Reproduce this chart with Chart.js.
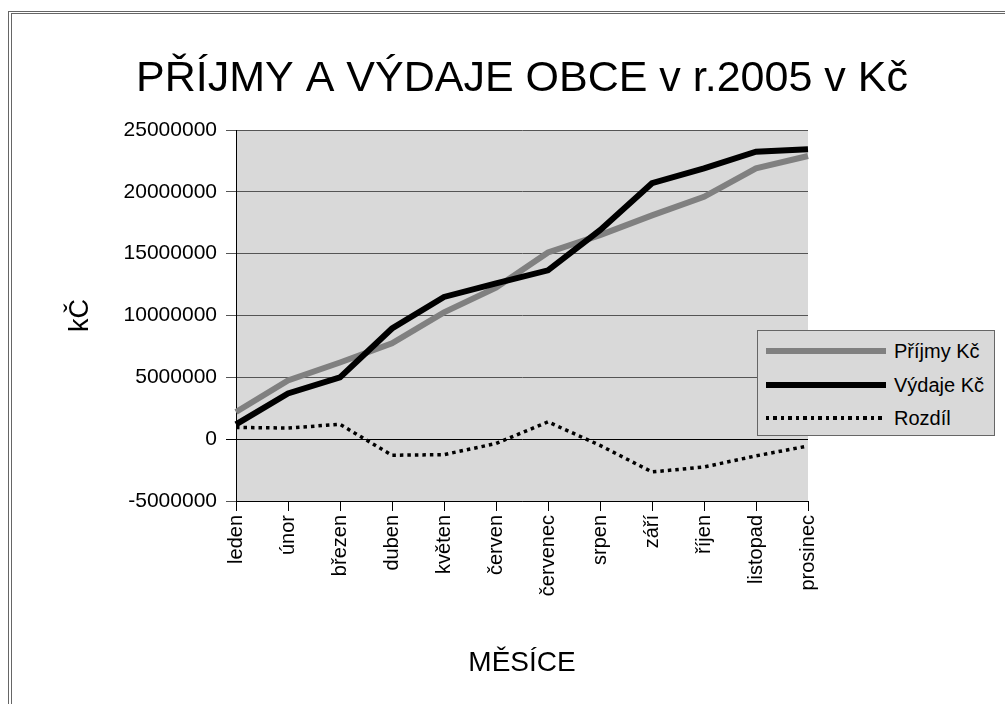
<!DOCTYPE html>
<html lang="cs">
<head>
<meta charset="utf-8">
<title>Příjmy a výdaje obce 2005</title>
<script src="https://cdn.jsdelivr.net/npm/chart.js@4/dist/chart.umd.min.js"></script>
<style>
  html, body { margin: 0; padding: 0; background: #fff; }
  body { width: 1005px; height: 704px; position: relative; overflow: hidden; font-family: "Liberation Sans", Arial, sans-serif; }
  #ramecek {
    position: absolute; left: 8px; top: 11px; width: 1100px; height: 800px;
    border-left: 4px double #666; border-top: 3px double #666;
  }
  #graf { position: absolute; left: 0; top: 0; }
  #legenda {
    position: absolute; left: 757px; top: 330px; width: 238px; height: 106px;
    box-sizing: border-box; background: #d9d9d9; border: 1px solid #666;
  }
  .radek { position: absolute; left: 8px; height: 24px; font-size: 20px; line-height: 24px; color: #000; }
  .vzorek { position: absolute; left: 0; width: 120px; }
  .popis { position: absolute; left: 128px; white-space: nowrap; }
</style>
</head>
<body>
<div id="ramecek"></div>
<canvas id="graf" width="1005" height="704"></canvas>
<div id="legenda"></div>
<script>
// data čtená z grafu
const mesice = ['leden', 'únor', 'březen', 'duben', 'květen', 'červen', 'červenec', 'srpen', 'září', 'říjen', 'listopad', 'prosinec'];
const prijmy = [2200000, 4750000, 6200000, 7750000, 10250000, 12250000, 15100000, 16500000, 18100000, 19600000, 21900000, 22900000];
const vydaje = [1200000, 3700000, 5000000, 8950000, 11500000, 12600000, 13650000, 16900000, 20700000, 21900000, 23250000, 23450000];
const rozdil = [950000, 900000, 1200000, -1300000, -1250000, -350000, 1400000, -500000, -2650000, -2250000, -1350000, -550000];
const osaYMin = -5000000;
const osaYMax = 25000000;
const osaYKrok = 5000000;

const nazvySerii = ['Příjmy Kč', 'Výdaje Kč', 'Rozdíl'];

// šedé pozadí plochy grafu
const pozadiPlochy = {
    id: 'pozadiPlochy',
    beforeDraw(chart) {
        const a = chart.chartArea;
        const ctx = chart.ctx;
        ctx.save();
        ctx.fillStyle = '#d9d9d9';
        ctx.fillRect(a.left, a.top, a.right - a.left, a.bottom - a.top);
        ctx.restore();
    }
};

const pismo = '"Liberation Sans", Arial, sans-serif';

const ctx = document.getElementById('graf').getContext('2d');
const graf = new Chart(ctx, {
    type: 'line',
    data: {
        labels: mesice,
        datasets: [
            {
                label: nazvySerii[0],
                data: prijmy,
                borderColor: '#808080',
                borderWidth: 6,
                order: 2
            },
            {
                label: nazvySerii[1],
                data: vydaje,
                borderColor: '#000000',
                borderWidth: 6,
                order: 1
            },
            {
                label: nazvySerii[2],
                data: rozdil,
                borderColor: '#000000',
                borderWidth: 3.5,
                borderDash: [3.5, 4],
                borderCapStyle: 'butt',
                order: 0
            }
        ]
    },
    options: {
        responsive: false,
        animation: false,
        devicePixelRatio: 1,
        // vlevo 39 px, aby byl nadpis vycentrovaný nad plochou grafu
        layout: { padding: { left: 39, right: 0, top: 0, bottom: 0 } },
        elements: {
            line: { tension: 0, fill: false, borderJoinStyle: 'miter' },
            point: { radius: 0, hoverRadius: 0 }
        },
        plugins: {
            legend: { display: false },
            tooltip: { enabled: false },
            title: {
                display: true,
                text: 'PŘÍJMY A VÝDAJE OBCE v r.2005 v Kč',
                color: '#000',
                font: { family: pismo, size: 43, weight: 'normal' },
                padding: { top: 53, bottom: 25.4 }
            }
        },
        scales: {
            x: {
                offset: false,
                grid: { drawOnChartArea: false, drawTicks: true, tickLength: 10, color: '#000' },
                border: { color: '#000', width: 1 },
                ticks: {
                    color: '#000',
                    font: { family: pismo, size: 20 },
                    minRotation: 90,
                    maxRotation: 90,
                    autoSkip: false,
                    padding: 4
                },
                title: {
                    display: true,
                    text: 'MĚSÍCE',
                    color: '#000',
                    font: { family: pismo, size: 28 },
                    padding: { top: 0, bottom: 24 }
                },
                afterFit(s) { s.height = 203; }
            },
            y: {
                min: osaYMin,
                max: osaYMax,
                grid: {
                    tickLength: 10,
                    color: (c) => (c.tick && c.tick.value === 0 ? '#000' : '#555')
                },
                border: { color: '#000', width: 1 },
                ticks: {
                    stepSize: osaYKrok,
                    color: '#000',
                    font: { family: pismo, size: 21 },
                    padding: 9,
                    callback: (v) => String(v)
                },
                title: {
                    display: true,
                    text: 'kČ',
                    color: '#000',
                    font: { family: pismo, size: 27 },
                    padding: { top: 25, bottom: 0 }
                },
                afterFit(s) { s.width = 197; }
            },
            // prázdné místo vpravo pro legendu
            volno: {
                position: 'right',
                display: true,
                grid: { display: false, drawTicks: false },
                border: { display: false },
                ticks: { display: false },
                afterFit(s) { s.width = 197; }
            }
        }
    },
    plugins: [pozadiPlochy]
});

// legenda vpravo (HTML), styly čárek podle datových řad
const legenda = document.getElementById('legenda');
graf.data.datasets.forEach(function(ds, i) {
    const radek = document.createElement('div');
    radek.className = 'radek';
    radek.style.top = (8 + i * 33.5) + 'px';
    const vzorek = document.createElement('div');
    vzorek.className = 'vzorek';
    const tl = ds.borderWidth;
    vzorek.style.top = (12 - tl / 2) + 'px';
    vzorek.style.height = tl + 'px';
    if (ds.borderDash) {
        const a = ds.borderDash[0], b = ds.borderDash[1];
        vzorek.style.background = `repeating-linear-gradient(to right, ${ds.borderColor} 0 ${a}px, transparent ${a}px ${a + b}px)`;
    } else {
        vzorek.style.background = ds.borderColor;
    }
    const popis = document.createElement('span');
    popis.className = 'popis';
    popis.textContent = ds.label;
    radek.appendChild(vzorek);
    radek.appendChild(popis);
    legenda.appendChild(radek);
});
</script>
</body>
</html>
